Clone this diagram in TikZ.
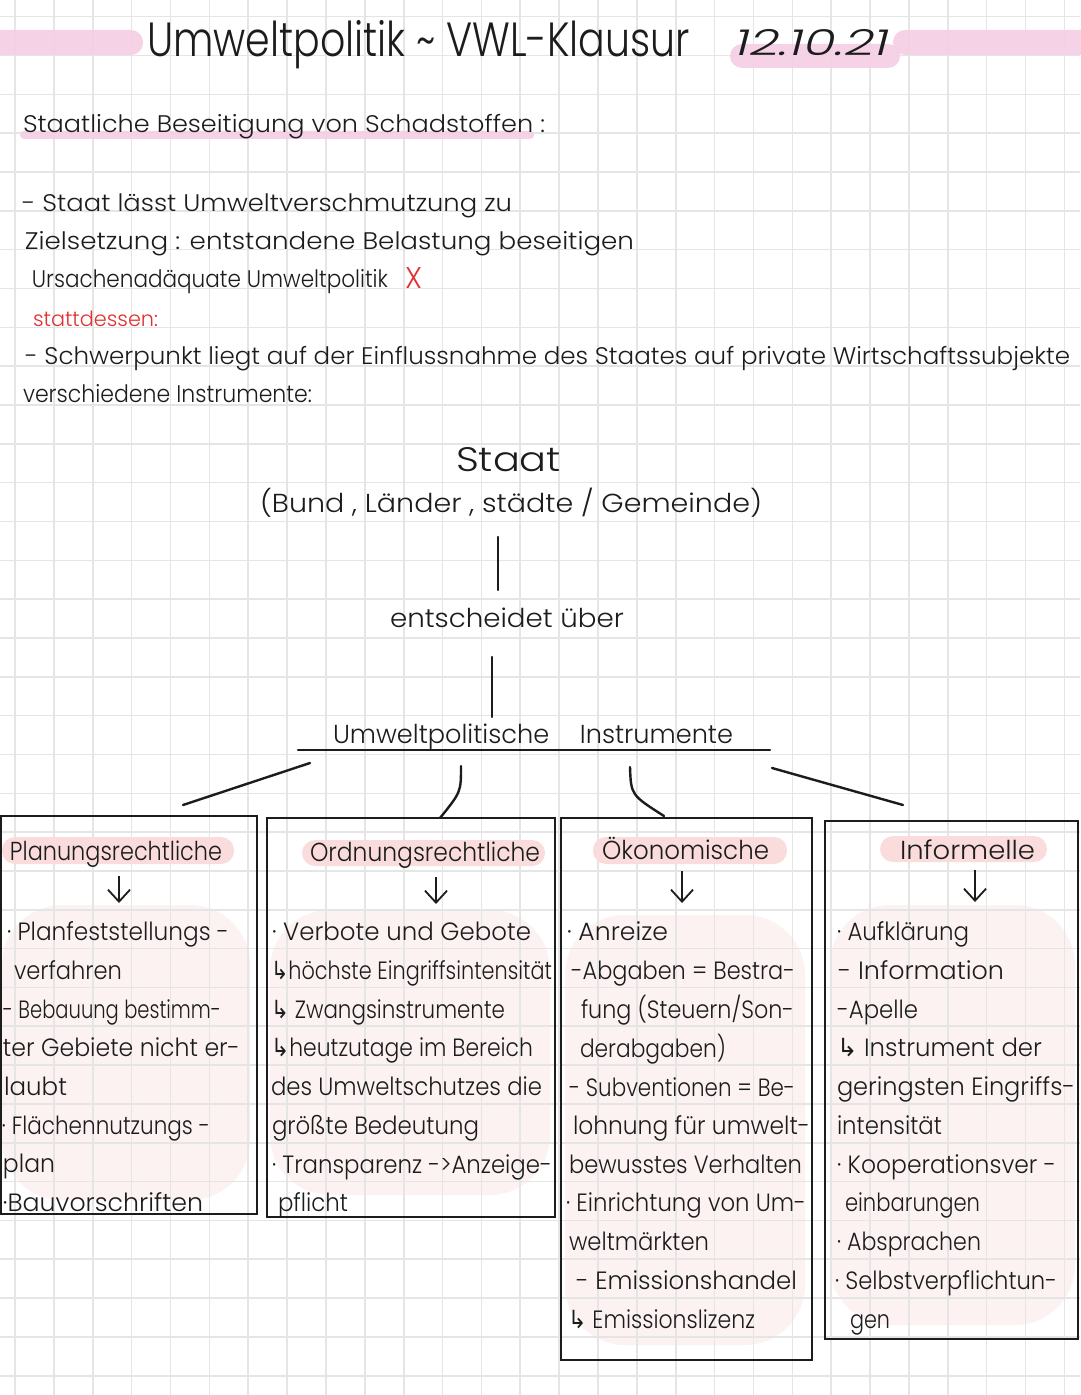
\documentclass[tikz,border=0pt]{standalone}
\usepackage{fontspec}
\setmainfont{Poppins}[UprightFont={* Light}, ItalicFont={* Light Italic}]
\newfontfamily\symf{DejaVu Sans}
\usetikzlibrary{arrows.meta}
\newdimen\pxu \pxu=0.5pt
\definecolor{ink}{RGB}{28,28,28}
\definecolor{redink}{RGB}{226,48,48}
\definecolor{gridc}{RGB}{229,229,229}
\definecolor{titlepink}{RGB}{246,206,229}
\definecolor{pillpink}{RGB}{250,220,220}
\definecolor{washpink}{RGB}{253,242,242}
\tikzset{
  txt/.style={anchor=base west, inner sep=0pt, outer sep=0pt, text=ink},
  title/.style={font=\fontsize{24}{28}\selectfont},
  datef/.style={font=\fontsize{18}{22}\selectfont\itshape},
  body/.style={font=\fontsize{12}{14}\selectfont},
  small/.style={font=\fontsize{10.5}{12}\selectfont},
  bigx/.style={font=\fontsize{15}{18}\selectfont},
  staatf/.style={font=\fontsize{17}{20}\selectfont},
  mid/.style={font=\fontsize{13}{15}\selectfont},
  hdr/.style={font=\fontsize{13}{15}\selectfont},
  boxt/.style={font=\fontsize{12.5}{15}\selectfont},
  gridl/.style={draw=gridc, line width=0.8pt},
  frame/.style={draw=ink, line width=1.2pt, inner sep=0pt, outer sep=0pt, fill=none},
  conn/.style={draw=ink, line width=1.2pt, line cap=round},
  darr/.style={draw=ink, line width=0.9pt, -{Straight Barb[length=6pt,width=11pt]}},
  pill/.style={fill=pillpink, rounded corners=6.5pt},
  wash/.style={fill=washpink, rounded corners=30pt},
}
\newcommand\tline[6][]{\node[txt,#1] (#2) at (#3,#4) {\resizebox{#5\pxu}{\height}{#6}};}
\begin{document}
\begin{tikzpicture}[x=0.5pt,y=-0.5pt]
\useasboundingbox (0,0) rectangle (1080,1395);
\fill[white] (0,0) rectangle (1080,1395);
% faint washes in boxes
\fill[wash] (2,905) rectangle (250,1200);
\fill[wash] (270,910) rectangle (550,1195);
\fill[wash] (565,915) rectangle (805,1345);
\fill[wash] (830,905) rectangle (1075,1325);
% grid
\foreach \k in {0,...,27} \draw[gridl] ({15.1+38.86*\k},0) -- ({15.1+38.86*\k},1395);
\foreach \k in {0,...,35} \draw[gridl] (0,{16.7+38.83*\k}) -- (1080,{16.7+38.83*\k});
% pink highlights
\fill[titlepink, opacity=0.9, rounded corners=6pt] (-20,30) rectangle (143,55);
\fill[titlepink, opacity=0.9, rounded corners=6pt] (893,30) rectangle (1100,55);
\fill[titlepink, opacity=0.9, rounded corners=6pt] (730,44) rectangle (900,68);
\fill[titlepink, opacity=0.9, rounded corners=2pt] (20,131) rectangle (534,139);
\fill[pill] (2,837) rectangle (234,864);
\fill[pill] (302,840) rectangle (545,866);
\fill[pill] (593,837) rectangle (787,864);
\fill[pill] (880,836) rectangle (1047,862);
% header texts
\tline[title]{ttl}{147}{57}{543}{Umweltpolitik \textasciitilde{} VWL-Klausur}
\tline[datef]{date}{735}{56}{155}{12.10.21}
\tline[body]{sub}{23}{133}{522}{Staatliche Beseitigung von Schadstoffen :}
\tline[body]{la}{22}{212}{490}{- Staat lässt Umweltverschmutzung zu}
\tline[body]{lb}{25}{250}{609}{Zielsetzung : entstandene Belastung beseitigen}
\tline[body]{lc}{32}{288}{356}{Ursachenadäquate Umweltpolitik}
\tline[bigx,text=redink]{lx}{405}{289}{17}{X}
\tline[small,text=redink]{ld}{33}{327}{125}{stattdessen:}
\tline[body]{le}{25}{365}{1045}{- Schwerpunkt liegt auf der Einflussnahme des Staates auf private Wirtschaftssubjekte}
\tline[body]{lf}{23}{403}{289}{verschiedene Instrumente:}
% hierarchy
\tline[staatf]{staat}{456}{472}{105}{Staat}
\tline[mid]{ebenen}{260}{512}{502}{(Bund , Länder , städte / Gemeinde)}
\tline[mid]{entsch}{390}{627}{234}{entscheidet über}
\tline[mid]{instr}{333}{743}{400}{Umweltpolitische\hspace{1.2em}Instrumente}
\coordinate (v1a) at (498,537); \coordinate (v1b) at (498,590);
\coordinate (v2a) at (492,657); \coordinate (v2b) at (492,717);
\draw[conn] (v1a) -- (v1b);
\draw[conn] (v2a) -- (v2b);
\coordinate (ula) at (298,750); \coordinate (ulb) at (770,750);
\draw[conn] (ula) -- (ulb);
\coordinate (c1a) at (310,763); \coordinate (c1b) at (183,805);
\coordinate (c2a) at (461,766); \coordinate (c2b) at (440,818);
\coordinate (c3a) at (630,767); \coordinate (c3b) at (664,816);
\coordinate (c4a) at (772,768); \coordinate (c4b) at (903,805);
\draw[conn] (c1a) -- (c1b);
\draw[conn] (c2a) .. controls (461,792) .. (c2b);
\draw[conn] (c3a) .. controls (631,795) .. (c3b);
\draw[conn] (c4a) -- (c4b);
% boxes
\node[frame, minimum width=256\pxu, minimum height=398\pxu] (b1) at (129,1015) {};
\node[frame, minimum width=288\pxu, minimum height=399\pxu] (b2) at (411,1017.5) {};
\node[frame, minimum width=251\pxu, minimum height=542\pxu] (b3) at (686.5,1089) {};
\node[frame, minimum width=253\pxu, minimum height=518\pxu] (b4) at (951.5,1080) {};
% box headers
\tline[hdr]{h1}{10}{860}{212}{Planungsrechtliche}
\tline[hdr]{h2}{310}{861}{230}{Ordnungsrechtliche}
\tline[hdr]{h3}{602}{859}{167}{Ökonomische}
\tline[hdr]{h4}{900}{859}{135}{Informelle}
\coordinate (a1a) at (119,876); \coordinate (a1b) at (119,903);
\coordinate (a2a) at (436,877); \coordinate (a2b) at (436,904);
\coordinate (a3a) at (682,871); \coordinate (a3b) at (682,903);
\coordinate (a4a) at (975,870); \coordinate (a4b) at (975,902);
\draw[darr] (a1a) -- (a1b);
\draw[darr] (a2a) -- (a2b);
\draw[darr] (a3a) -- (a3b);
\draw[darr] (a4a) -- (a4b);
% box 1
\tline[boxt]{p1}{7}{940}{222}{· Planfeststellungs -}
\tline[boxt]{p2}{14}{979}{108}{verfahren}
\tline[boxt]{p3}{3}{1018}{218}{- Bebauung bestimm-}
\tline[boxt]{p4}{3}{1056}{237}{ter Gebiete nicht er-}
\tline[boxt]{p5}{4}{1095}{63}{laubt}
\tline[boxt]{p6}{2}{1134}{208}{· Flächennutzungs -}
\tline[boxt]{p7}{3}{1172}{52}{plan}
\tline[boxt]{p8}{3}{1211}{200}{·Bauvorschriften}
% box 2
\tline[boxt]{o1}{272}{940}{259}{· Verbote und Gebote}
\tline[boxt]{o2}{271}{979}{281}{{\symf ↳}höchste Eingriffsintensität}
\tline[boxt]{o3}{271}{1018}{234}{{\symf ↳} Zwangsinstrumente}
\tline[boxt]{o4}{271}{1056}{262}{{\symf ↳}heutzutage im Bereich}
\tline[boxt]{o5}{271}{1095}{271}{des Umweltschutzes die}
\tline[boxt]{o6}{272}{1134}{207}{größte Bedeutung}
\tline[boxt]{o7}{272}{1173}{280}{· Transparenz ->Anzeige-}
\tline[boxt]{o8}{278}{1211}{70}{pflicht}
% box 3
\tline[boxt]{k1}{567}{940}{101}{· Anreize}
\tline[boxt]{k2}{571}{979}{224}{-Abgaben = Bestra-}
\tline[boxt]{k3}{581}{1018}{213}{fung (Steuern/Son-}
\tline[boxt]{k4}{580}{1057}{146}{derabgaben)}
\tline[boxt]{k5}{569}{1096}{226}{- Subventionen = Be-}
\tline[boxt]{k6}{573}{1134}{237}{lohnung für umwelt-}
\tline[boxt]{k7}{569}{1173}{233}{bewusstes Verhalten}
\tline[boxt]{k8}{566}{1211}{240}{· Einrichtung von Um-}
\tline[boxt]{k9}{569}{1250}{140}{weltmärkten}
\tline[boxt]{k10}{576}{1289}{221}{- Emissionshandel}
\tline[boxt]{k11}{568}{1328}{187}{{\symf ↳} Emissionslizenz}
% box 4
\tline[boxt]{i1}{837}{940}{132}{· Aufklärung}
\tline[boxt]{i2}{838}{979}{166}{- Information}
\tline[boxt]{i3}{837}{1018}{81}{-Apelle}
\tline[boxt]{i4}{837}{1056}{205}{{\symf ↳} Instrument der}
\tline[boxt]{i5}{837}{1095}{238}{geringsten Eingriffs-}
\tline[boxt]{i6}{837}{1134}{105}{intensität}
\tline[boxt]{i7}{837}{1173}{219}{· Kooperationsver -}
\tline[boxt]{i8}{845}{1211}{135}{einbarungen}
\tline[boxt]{i9}{837}{1250}{144}{· Absprachen}
\tline[boxt]{i10}{835}{1289}{222}{· Selbstverpflichtun-}
\tline[boxt]{i11}{850}{1328}{40}{gen}
\end{tikzpicture}
\end{document}
